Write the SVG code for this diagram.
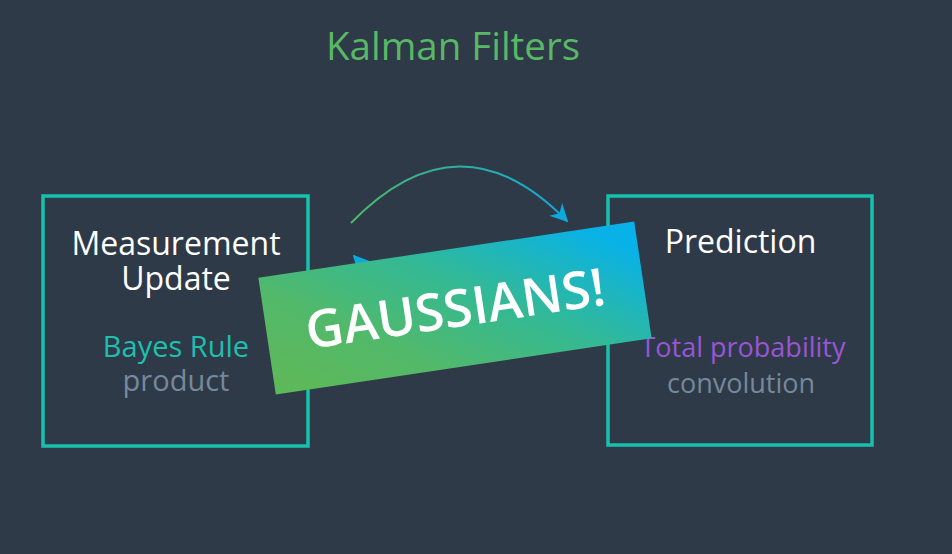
<svg xmlns="http://www.w3.org/2000/svg" width="952" height="554" viewBox="0 0 952 554">
<defs>
<style>
.box{fill:none;stroke:#17c1ae;stroke-width:3.5}
.t{font-family:"Open Sans","Liberation Sans",sans-serif;text-anchor:middle}
.head{fill:#ffffff;font-size:32px}
.gray{fill:#77889b}
.conn{fill:none;stroke-width:2}
</style>
<linearGradient id="arcg" gradientUnits="userSpaceOnUse" x1="351" y1="0" x2="569" y2="0">
<stop offset="0" stop-color="#4cb86a"/>
<stop offset="1" stop-color="#0ea8dc"/>
</linearGradient>
<linearGradient id="arcg2" gradientUnits="userSpaceOnUse" x1="569" y1="0" x2="351" y2="0">
<stop offset="0" stop-color="#4cb86a"/>
<stop offset="1" stop-color="#0ea8dc"/>
</linearGradient>
<linearGradient id="bang" x1="0" y1="0.75" x2="1" y2="0.25">
<stop offset="0" stop-color="#5cb85b"/>
<stop offset="0.25" stop-color="#52b96a"/>
<stop offset="0.6" stop-color="#33b995"/>
<stop offset="1" stop-color="#08b2e8"/>
</linearGradient>
<marker id="ah2" viewBox="0 0 10 10" refX="9" refY="5" markerWidth="18" markerHeight="18" orient="auto" markerUnits="userSpaceOnUse">
<path d="M0,0 L10,5 L0,10 L3,5 Z" fill="#0ea8dc"/>
</marker>
</defs>
<rect width="952" height="554" fill="#2e3a48"/>
<text class="t" x="453" y="60" font-size="38.5" fill="#58b865">Kalman Filters</text>
<g id="connectors">
<path class="conn" d="M351,223 Q460,111 567,221" stroke="url(#arcg)" marker-end="url(#ah2)"/>
<path class="conn" d="M569,257 Q460,369 354,256" stroke="url(#arcg2)" marker-end="url(#ah2)"/>
</g>
<g id="measurement">
<rect class="box" x="43" y="196" width="265" height="250"/>
<text class="t head" x="176" y="255">Measurement</text>
<text class="t head" x="176" y="290">Update</text>
<text class="t" x="176" y="357" font-size="29" fill="#1fbfae">Bayes Rule</text>
<text class="t gray" x="176" y="391" font-size="29">product</text>
</g>
<g id="prediction">
<rect class="box" x="608" y="196" width="264" height="249"/>
<text class="t head" x="740.5" y="253">Prediction</text>
<text class="t" x="743" y="357" font-size="27" fill="#9a55d6">Total probability</text>
<text class="t gray" x="741" y="393" font-size="27">convolution</text>
</g>
<g id="banner" transform="translate(455,308) rotate(-8.5)">
<rect x="-190" y="-59" width="380" height="118" fill="url(#bang)"/>
<text class="t" x="0" y="19" font-size="52" font-weight="600" fill="#ffffff">GAUSSIANS!</text>
</g>
</svg>
